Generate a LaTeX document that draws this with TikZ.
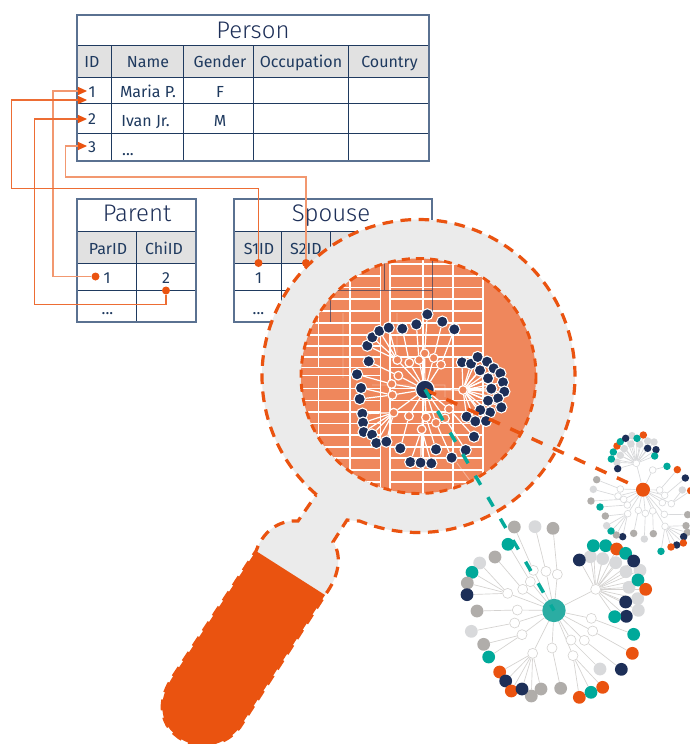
\documentclass[tikz,border=0pt]{standalone}
\usepackage{fontspec}
\setmainfont{Fira Sans}
\newfontfamily\lightf{Fira Sans}[UprightFont=* Light]
\usetikzlibrary{arrows.meta}
\definecolor{nv}{HTML}{1D2F58}
\definecolor{tl}{HTML}{00A99A}
\definecolor{gy}{HTML}{B0ADAA}
\definecolor{lt}{HTML}{D8D9DB}
\definecolor{og}{HTML}{EA5310}
\definecolor{lensc}{HTML}{EF875C}
\definecolor{magc}{HTML}{EBEBEB}
\definecolor{hdr}{HTML}{E1E1E1}
\definecolor{txt}{HTML}{1F3A5F}
\definecolor{bord}{HTML}{5A7191}
\definecolor{cen}{HTML}{2BADA3}
\pgfdeclarelayer{edges}\pgfdeclarelayer{nodes}\pgfdeclarelayer{top}
\pgfsetlayers{main,edges,nodes,top}
\tikzset{
 tbl/.style={draw=bord,line width=.8pt},
 inner/.style={draw=txt,line width=.75pt},
 hdrfill/.style={fill=hdr},
 big/.style={anchor=base,text=nv,font=\lightf\fontsize{18}{20}\selectfont,inner sep=0pt},
 cell/.style={anchor=base,text=txt,font=\fontsize{12}{14}\selectfont,inner sep=0pt},
 conn/.style={draw=og!85!white,line width=.8pt},
 connl/.style={draw=og!60!white,line width=.8pt},
 tip/.style={-{Triangle[length=6.8pt,width=6pt,color=og,fill=og]}},
 dotn/.style={circle,fill=og,inner sep=0pt,minimum size=6pt},
 lhub/.style={circle,draw=white,fill=lensc,line width=.9pt,inner sep=0pt,minimum size=6.5pt},
 lleaf/.style={circle,draw=white,line width=.8pt,inner sep=0pt,minimum size=8.5pt},
 ledge/.style={draw=white,line width=.9pt},
 ghub/.style={circle,draw=gy!55!white,fill=white,line width=.45pt,inner sep=0pt,minimum size=7.5pt},
 gleaf/.style={circle,inner sep=0pt,minimum size=9.6pt},
 gedge/.style={draw=gy!55!white,line width=.5pt},
 rhub/.style={circle,draw=lt,fill=white,line width=.45pt,inner sep=0pt,minimum size=5pt},
 rleaf/.style={circle,inner sep=0pt,minimum size=5.6pt},
 redge/.style={draw=lt,line width=.5pt},
 outdash/.style={draw=og,line width=2.4pt,dash pattern=on 8pt off 5.6pt},
 lensdash/.style={draw=og,line width=2.2pt,dash pattern=on 6pt off 4.6pt},
 orlink/.style={line width=2.6pt,dash pattern=on 9pt off 8.6pt},
 tllink/.style={line width=2.6pt,dash pattern=on 8pt off 10.7pt},
}
\newcommand{\drawnet}[6]{%
 \foreach \id/\x/\y in {#5}{%
  \begin{pgfonlayer}{nodes}\node[#2] (#1\id) at (\x,\y) {};\end{pgfonlayer}%
  \begin{pgfonlayer}{edges}\draw[#4] (#1c) -- (#1\id);\end{pgfonlayer}}%
 \foreach \hh/\x/\y/\cc [count=\i] in {#6}{%
  \begin{pgfonlayer}{nodes}\node[#3,fill=\cc] (#1l\i) at (\x,\y) {};\end{pgfonlayer}%
  \begin{pgfonlayer}{edges}\draw[#4] (#1\hh) -- (#1l\i);\end{pgfonlayer}}%
}
\def\magoutline{plot[domain=130.6:472,samples=260] ({418.5+156.5*cos(\x)},{376+156.5*sin(\x)})
  -- (347,520) -- (333,542) .. controls (343,557) and (338,578) .. (325,595)
  -- (240,727) .. controls (232,738) and (218,745) .. (205,746)
  .. controls (190,746) and (175,738) .. (167,725)
  .. controls (160,712) and (160,697) .. (172,678)
  -- (256,551) .. controls (265,527) and (283,520) .. (298,521) -- (316,495)}
\begin{document}
\begin{tikzpicture}[x=.75pt,y=-.75pt]
\useasboundingbox (0,0) rectangle (690,744);
\fill[white] (0,0) rectangle (690,744);
% Person table
\fill[hdrfill] (77,45) rectangle (429,77);
\draw[inner] (77,45) -- (429,45) (77,77) -- (429,77) (77,103) -- (429,103) (77,133) -- (429,133);
\draw[inner] (111,45) -- (111,161) (183,45) -- (183,161) (253,45) -- (253,161) (348,45) -- (348,161);
\draw[tbl] (77,15) rectangle (429,161);
\node[big] (tPerson) at (253,38.5) {Person};
\node[cell] (pId) at (92,67.5) {ID};
\node[cell] (pName) at (148,67.5) {Name};
\node[cell] (pGender) at (220,67.5) {Gender};
\node[cell] (pOcc) at (301,67.5) {Occupation};
\node[cell] (pCountry) at (389.5,67.5) {Country};
\node[cell] (r1) at (92,97) {1};
\node[cell] (r2) at (92,124.5) {2};
\node[cell] (r3) at (92,152) {3};
\node[cell] (maria) at (148,97) {Maria P.};
\node[cell] (ivan) at (145.5,126) {Ivan Jr.};
\node[cell] (dots1) at (128,155) {...};
\node[cell] (fF) at (220,97) {F};
\node[cell] (mM) at (220,126) {M};
% Parent table
\fill[hdrfill] (77,231) rectangle (196,263);
\draw[inner] (77,231) -- (196,231) (77,263) -- (196,263) (77,290) -- (196,290) (136,231) -- (136,322);
\draw[tbl] (77,199) rectangle (196,322);
\node[big] (tParent) at (137,221) {Parent};
\node[cell] (parid) at (108,254.5) {ParID};
\node[cell] (chid) at (164,254.5) {ChiID};
\node[cell] (pa1) at (107,283) {1};
\node[cell] (pa2) at (166,283) {2};
\node[cell] (dots2) at (107.5,314) {...};
% Spouse table
\fill[hdrfill] (234,231) rectangle (432,263);
\draw[inner] (234,231) -- (432,231) (234,263) -- (432,263) (234,290) -- (432,290) (281.5,231) -- (281.5,322) (330,231) -- (330,322);
\draw[tbl] (234,199) rectangle (432,322);
\node[big] (tSpouse) at (331,221) {Spouse};
\node[cell] (s1) at (259,254.5) {S1ID};
\node[cell] (s2) at (306,254.5) {S2ID};
\node[cell] (sp1) at (258.5,283) {1};
\node[cell] (dots3) at (258.5,314) {...};
% connectors
\coordinate (a1) at (87,91);
\coordinate (a1b) at (87,100);
\coordinate (a2) at (87,119);
\coordinate (a3) at (87,146);
\node[dotn] (dParent) at (95.5,276.5) {};
\node[dotn] (dChild) at (166,290.5) {};
\node[dotn] (dS1) at (258.5,263) {};
\node[dotn] (dS2) at (306,263) {};
\draw[connl,tip] (dParent) -- (53,276.5) -- (53,91) -- (a1);
\draw[conn,tip] (dS1) -- (258.5,188.5) -- (11.5,188.5) -- (11.5,100) -- (a1b);
\draw[conn,tip] (dChild) -- (166,304.5) -- (34.5,304.5) -- (34.5,119) -- (a2);
\draw[connl,tip] (dS2) -- (306,177) -- (65.5,177) -- (65.5,146) -- (a3);
% magnifier
\fill[magc] \magoutline -- cycle;
\fill[og] (256,551) -- (325,595) -- (240,727) .. controls (232,738) and (218,745) .. (205,746)
  .. controls (190,746) and (175,738) .. (167,725)
  .. controls (160,712) and (160,697) .. (172,678) -- cycle;
\draw[outdash] \magoutline;
% lens
\fill[lensc] (418.5,376) circle[radius=117.5];
\begin{scope}
\clip (418.5,376) circle[radius=117.5];
\foreach \yy in {264,276,287.3,299,311,323,335,346,357,367.5,388.5,400.5,412,423.5,435,447,458,470,482}{
  \draw[white,line width=1.1pt] (295,\yy) -- (380.7,\yy);
  \draw[white,line width=1.1pt] (391,\yy) -- (483,\yy);
}
\draw[white,line width=.8pt] (295,375.5) -- (380.7,375.5);
\foreach \xx in {350,380.7,390,423,453,483}{
  \draw[white,line width=1.1pt] (\xx,250) -- (\xx,500);
}
\draw[white,line width=1.1pt] (318.3,250) -- (318.3,367.5) (318.3,375.5) -- (318.3,500);
\draw[nv,opacity=.6,line width=.7pt] (384,250) -- (384,290) (330,322) -- (330,290) -- (432,290) (432,255) -- (432,312);
\draw[white,opacity=.35,line width=.7pt] (343,313) -- (343,378) (397,313) -- (397,353) (372,385) -- (445,385) -- (445,397) (457,463) -- (477,490);
\end{scope}
\draw[lensdash] (418.5,376) circle[radius=117.5];
% lens graph
\begin{pgfonlayer}{nodes}
\node[circle,fill=nv,draw=white,line width=.9pt,inner sep=0pt,minimum size=14pt] (Lc) at (425,389.5) {};
\end{pgfonlayer}
\begin{scope}[shift={(290,250)},x=.25pt,y=-.25pt]
\drawnet{L}{lhub}{lleaf}{ledge}
{a/322/330,b/358/338,c2/387/330,d/404/310,e/431/324,f/453/344,g/325/377,h/305/402,i/307/435,j/311/488,k/357/498,m/395/538,n/408/502,o/438/518,p/465/505,q/477/477,r/519/420}
{a/232/287/nv,a/247/262/nv,a/268/243/nv,a/296/233/nv,b/337/236/nv,c2/379/223/nv,d/412/193/nv,e/457/215/nv,f/493/238/nv,g/236/334/nv,h/201/373/nv,i/213/414/nv,i/209/447/nv,
j/217/491/nv,j/219/518/nv,j/221/546/nv,j/246/554/nv,j/259/579/nv,j/289/575/nv,k/331/595/nv,m/361/636/nv,m/392/638/nv,m/424/640/nv,n/438/598/nv,o/485/623/nv,p/527/600/nv,q/552/560/nv,
r/516/337/nv,r/543/341/nv,r/563/321/nv,r/591/335/nv,r/570/361/nv,r/611/355/nv,r/631/370/nv,r/594/385/nv,r/639/397/nv,r/604/416/nv,r/643/425/nv,r/624/445/nv,r/594/452/nv,r/634/472/nv,r/600/487/nv,r/571/480/nv,r/530/500/nv,r/556/514/nv,r/588/513/nv}
\end{scope}
% green graph
\begin{pgfonlayer}{nodes}
\node[circle,fill=cen,inner sep=0pt,minimum size=17.5pt] (Gc) at (554,610.5) {};
\end{pgfonlayer}
\begin{scope}[shift={(450,500)},x=.25pt,y=-.25pt]
\drawnet{G}{ghub}{gleaf}{gedge}
{a/173/280,b/218/268,c2/241/245,d/250/211,e/288/214,f/322/223,g/437/268,h/424/355,i/428/393,j/403/421,k/363/420,m/369/467,n/306/444,o/248/460,p/216/404,q/194/369,r/202/330}
{a/89/189/lt,a/66/217/tl,a/52/249/gy,a/51/284/nv,b/135/171/gy,c2/174/133/tl,d/193/81/gy,e/255/80/lt,f/309/85/gy,
g/421/170/lt,g/458/176/lt,g/497/188/lt,g/528/215/lt,g/570/211/lt,g/537/262/lt,g/563/296/lt,g/565/331/lt,g/388/180/nv,g/430/137/tl,g/467/137/tl,g/500/147/og,g/527/160/tl,g/551/183/nv,g/564/240/tl,g/587/268/og,g/527/306/nv,g/529/349/nv,g/494/350/tl,
h/551/403/tl,i/547/460/og,j/514/508/nv,k/450/507/lt,m/388/592/og,m/458/562/og,m/423/577/tl,n/332/565/gy,
o/149/516/og,o/167/543/nv,o/184/573/og,o/244/588/gy,o/273/567/gy,o/216/567/nv,p/101/433/gy,p/116/471/tl,q/64/394/lt,r/81/333/gy}
\end{scope}
% red graph
\begin{pgfonlayer}{nodes}
\node[circle,fill=og,inner sep=0pt,minimum size=10.5pt] (Rc) at (643,489.7) {};
\end{pgfonlayer}
\begin{scope}[shift={(570,420)},x=.25pt,y=-.25pt]
\drawnet{R}{rhub}{rleaf}{redge}
{a/199/130,b/248/150,c2/269/210,d/284/226,e/304/251,f/277/248,g/283/283,h/285/319,i/248/273,j/226/280,k/205/271,m/173/281,n/172/255,o/161/238,p/144/228,q/151/207}
{a/141/127/lt,a/151/106/lt,a/163/86/lt,a/183/72/lt,a/209/73/lt,a/186/47/lt,a/233/63/lt,a/252/66/lt,a/143/146/nv,a/124/117/tl,a/130/96/tl,a/141/78/og,a/151/65/tl,a/167/55/nv,a/201/55/tl,a/220/45/og,a/258/89/nv,a/233/85/nv,a/254/108/tl,
b/291/139/tl,c2/322/149/og,d/346/174/nv,e/337/210/lt,e/362/212/og,g/353/284/gy,h/348/317/gy,h/352/337/gy,h/341/350/nv,h/340/369/og,h/320/375/nv,h/303/381/og,h/273/394/tl,
i/250/341/gy,j/223/357/lt,k/191/340/gy,m/158/350/nv,m/139/345/gy,m/123/333/tl,m/110/317/lt,m/106/288/gy,n/90/261/tl,o/63/243/gy,p/70/208/lt,q/80/179/gy}
\end{scope}
% links
\begin{pgfonlayer}{top}
\draw[orlink,draw=og] (Lc.center) -- (Rc.center);
\draw[tllink,draw=tl!85!cen] (Lc.center) -- (Gc.center);
\end{pgfonlayer}
\end{tikzpicture}
\end{document}
